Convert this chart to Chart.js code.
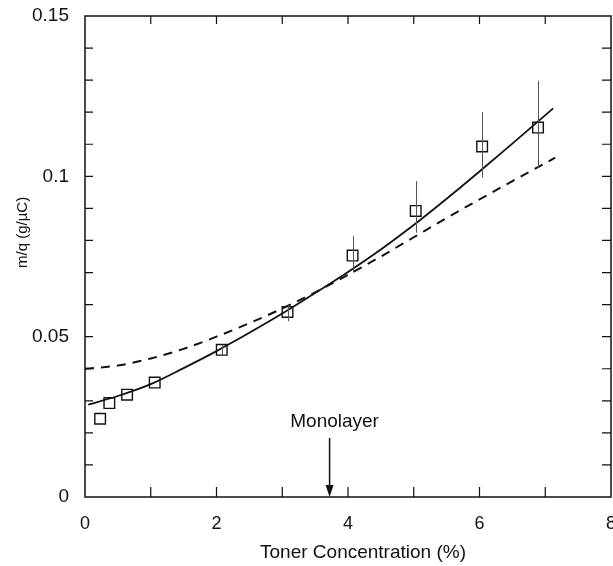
<!DOCTYPE html>
<html>
<head>
<meta charset="utf-8">
<script src="https://cdn.jsdelivr.net/npm/chart.js@4.4.1/dist/chart.umd.min.js"></script>
<style>
  html, body { margin: 0; padding: 0; background: #fff; }
  #wrap { width: 613px; height: 566px; }
</style>
</head>
<body>
<div id="wrap"><canvas id="c" width="613" height="566"></canvas></div>
<script>
// measured points (toner %, m/q)
const pointX = [0.23, 0.37, 0.64, 1.06, 2.08, 3.08, 4.07, 5.03, 6.04, 6.89];
const pointY = [0.0244, 0.0293, 0.0319, 0.0357, 0.0459, 0.0577, 0.0753, 0.0892, 0.1093, 0.1152];
const errLow  = [null, null, null, null, 0.0440, 0.0548, 0.0700, 0.0824, 0.0996, 0.1027];
const errHigh = [null, null, null, null, 0.0474, 0.0600, 0.0813, 0.0985, 0.1200, 0.1298];

// fitted curves
const solidX = [0.05, 0.5, 1, 1.5, 2, 2.5, 3, 3.5, 4, 4.5, 5, 5.5, 6, 6.5, 7.12];
const solidY = [0.0288, 0.0315, 0.0352, 0.0402, 0.0455, 0.0512, 0.0572, 0.0636, 0.0702, 0.0772, 0.0848, 0.0930, 0.1015, 0.1102, 0.1212];
const dashedX = [0, 0.5, 1, 1.5, 2, 2.5, 3, 3.5, 4, 4.5, 5, 5.5, 6, 6.5, 7.15];
const dashedY = [0.0400, 0.0410, 0.0432, 0.0462, 0.0500, 0.0542, 0.0588, 0.0638, 0.0693, 0.0750, 0.0810, 0.0870, 0.0928, 0.0985, 0.1058];

const xLabels = ['0', '2', '4', '6', '8'];
const yLabels = ['0', '0.05', '0.1', '0.15'];
const monolayerX = 3.72;

const FONT = 'Liberation Sans, Arial, sans-serif';
const INK = '#111';

const toXY = (xs, ys) => xs.map((x, i) => ({ x: x, y: ys[i] }));

// error bars, frame, inward ticks, titles and the monolayer arrow
const decorations = {
    id: 'decorations',
    afterDatasetsDraw(chart) {
        const ctx = chart.ctx;
        const xs = chart.scales.x;
        const ys = chart.scales.y;
        const a = chart.chartArea;
        ctx.save();

        // error bars
        ctx.strokeStyle = '#555';
        ctx.lineWidth = 1;
        pointX.forEach((x, i) => {
            if (errLow[i] == null) return;
            const px = Math.round(xs.getPixelForValue(x)) + 0.5;
            ctx.beginPath();
            ctx.moveTo(px, ys.getPixelForValue(errLow[i]));
            ctx.lineTo(px, ys.getPixelForValue(errHigh[i]));
            ctx.stroke();
        });

        // frame
        ctx.strokeStyle = INK;
        ctx.lineWidth = 1.5;
        ctx.strokeRect(a.left, a.top, a.right - a.left, a.bottom - a.top);

        // x ticks (every 1) top and bottom
        ctx.lineWidth = 1.2;
        for (let v = 1; v < 8; v++) {
            const px = xs.getPixelForValue(v);
            ctx.beginPath();
            ctx.moveTo(px, a.bottom); ctx.lineTo(px, a.bottom - 10);
            ctx.moveTo(px, a.top); ctx.lineTo(px, a.top + 8);
            ctx.stroke();
        }
        // y ticks (every 0.01) left and right
        for (let k = 1; k < 15; k++) {
            const py = ys.getPixelForValue(k / 100);
            ctx.beginPath();
            ctx.moveTo(a.left, py); ctx.lineTo(a.left + 8, py);
            ctx.moveTo(a.right, py); ctx.lineTo(a.right - 9, py);
            ctx.stroke();
        }

        // monolayer arrow
        const mx = xs.getPixelForValue(monolayerX);
        const top = ys.getPixelForValue(0.0184);
        ctx.lineWidth = 1.5;
        ctx.beginPath();
        ctx.moveTo(mx, top); ctx.lineTo(mx, a.bottom - 8);
        ctx.stroke();
        ctx.fillStyle = INK;
        ctx.beginPath();
        ctx.moveTo(mx - 4, a.bottom - 12);
        ctx.lineTo(mx + 4, a.bottom - 12);
        ctx.lineTo(mx, a.bottom);
        ctx.closePath();
        ctx.fill();

        ctx.font = '19px ' + FONT;
        ctx.textAlign = 'center';
        ctx.textBaseline = 'middle';
        ctx.fillText('Monolayer', mx + 5, ys.getPixelForValue(0.0234));

        // axis titles
        ctx.fillText('Toner Concentration (%)', (a.left + a.right) / 2 + 15, a.bottom + 56);
        ctx.save();
        ctx.translate(23, ys.getPixelForValue(0.0825));
        ctx.rotate(-Math.PI / 2);
        ctx.font = '15px ' + FONT;
        ctx.fillText('m/q (g/\u00b5C)', 0, 0);
        ctx.restore();

        ctx.restore();
    }
};

new Chart(document.getElementById('c'), {
    type: 'scatter',
    data: {
        datasets: [
            {
                label: 'data',
                data: toXY(pointX, pointY),
                pointStyle: 'rect',
                pointRadius: 7.5,
                pointHoverRadius: 7.5,
                pointBorderWidth: 1.4,
                pointBorderColor: INK,
                pointBackgroundColor: 'rgba(255,255,255,0)',
                showLine: false,
                order: 0
            },
            {
                label: 'fit',
                data: toXY(solidX, solidY),
                showLine: true,
                borderColor: INK,
                borderWidth: 1.8,
                pointRadius: 0,
                cubicInterpolationMode: 'monotone',
                order: 1
            },
            {
                label: 'model',
                data: toXY(dashedX, dashedY),
                showLine: true,
                borderColor: INK,
                borderWidth: 2,
                borderDash: [9, 7],
                pointRadius: 0,
                cubicInterpolationMode: 'monotone',
                order: 2
            }
        ]
    },
    options: {
        responsive: false,
        animation: false,
        layout: { autoPadding: false, padding: { top: 16, right: 2, left: 0, bottom: 0 } },
        plugins: { legend: { display: false }, tooltip: { enabled: false } },
        scales: {
            x: {
                type: 'linear',
                min: 0, max: 8,
                grid: { display: false },
                border: { display: false },
                afterFit: s => { s.height = 69; s.paddingLeft = 0; s.paddingRight = 0; },
                ticks: {
                    stepSize: 1,
                    padding: 8,
                    color: INK,
                    font: { family: FONT, size: 18 },
                    maxRotation: 0,
                    autoSkip: false,
                    callback: v => (v % 2 === 0 ? xLabels[v / 2] : '')
                }
            },
            y: {
                type: 'linear',
                min: 0, max: 0.15,
                grid: { display: false },
                border: { display: false },
                afterFit: s => { s.width = 85; s.paddingTop = 0; s.paddingBottom = 0; },
                ticks: {
                    stepSize: 0.05,
                    padding: 8,
                    color: INK,
                    font: { family: FONT, size: 19 },
                    autoSkip: false,
                    callback: (v) => yLabels[Math.round(v / 0.05)]
                }
            }
        }
    },
    plugins: [decorations]
});
</script>
</body>
</html>
